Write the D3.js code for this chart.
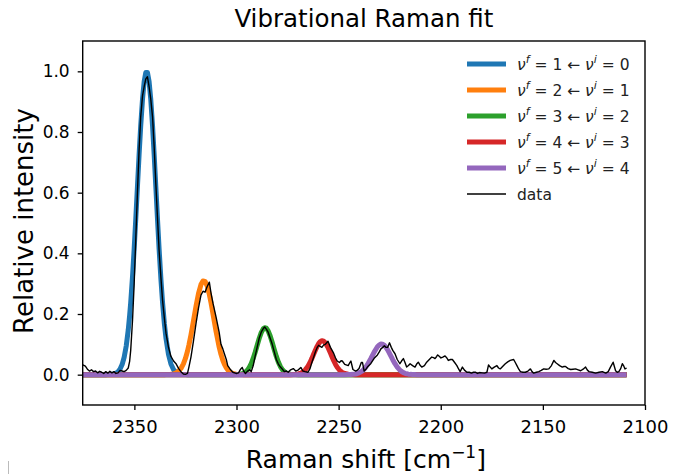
<!DOCTYPE html>
<html>
<head>
<meta charset="utf-8">
<script src="https://cdn.jsdelivr.net/npm/d3@7"></script>
<style>
  html, body { margin: 0; padding: 0; background: #fff; }
  svg { display: block; font-family: "DejaVu Sans", sans-serif; }
</style>
</head>
<body>
<svg id="chart" width="677" height="474"></svg>
<script>
// Measured spectrum: Raman shift [cm^-1] and normalised intensity
const dataShift = [
  2375.5, 2374.0, 2373.0, 2372.0, 2371.0, 2370.0, 2369.0, 2368.0, 2367.0, 2366.0,
  2365.0, 2364.0, 2363.0, 2362.0, 2361.0, 2360.0, 2359.0, 2358.0, 2357.0, 2356.0,
  2355.0, 2354.0, 2353.0, 2352.3, 2351.8, 2350.9, 2350.1, 2349.3, 2348.5, 2347.7,
  2346.9, 2346.0, 2345.2, 2344.4, 2343.6, 2342.8, 2342.0, 2341.1, 2340.3, 2339.5,
  2338.7, 2337.9, 2337.0, 2336.2, 2335.3, 2334.5, 2333.3, 2332.1, 2330.8, 2329.5,
  2328.3, 2327.2, 2326.0, 2325.0, 2324.0, 2323.3, 2322.3, 2321.1, 2319.8, 2318.6,
  2317.4, 2316.4, 2315.4, 2314.4, 2313.3, 2312.5, 2311.5, 2310.0, 2308.5, 2307.6,
  2306.7, 2305.9, 2305.0, 2304.3, 2303.1, 2301.8, 2300.2, 2299.0, 2298.0, 2297.2,
  2296.5, 2295.6, 2294.5, 2293.6, 2292.8, 2291.8, 2290.9, 2289.9, 2288.9, 2287.9,
  2286.9, 2286.2, 2285.4, 2284.5, 2283.5, 2282.5, 2281.5, 2280.5, 2279.5, 2278.5,
  2277.5, 2276.6, 2275.6, 2274.7, 2273.5, 2272.2, 2271.0, 2269.7, 2268.5, 2267.5,
  2266.4, 2265.0, 2264.0, 2263.1, 2262.2, 2261.4, 2260.6, 2259.8, 2259.0, 2258.2,
  2257.3, 2256.5, 2255.2, 2254.0, 2253.2, 2252.4, 2251.5, 2250.7, 2249.6, 2248.8,
  2248.2, 2247.0, 2245.3, 2244.5, 2244.0, 2243.0, 2241.7, 2240.8, 2240.0, 2238.9,
  2238.3, 2237.5, 2236.6, 2235.9, 2234.2, 2232.6, 2231.0, 2230.1, 2229.3, 2228.4,
  2227.6, 2226.8, 2226.0, 2225.1, 2224.2, 2223.5, 2222.4, 2221.3, 2220.0, 2219.2,
  2218.3, 2217.5, 2216.7, 2215.8, 2215.0, 2213.8, 2212.6, 2211.8, 2211.0, 2210.0,
  2209.3, 2208.0, 2206.9, 2205.6, 2204.4, 2203.5, 2202.8, 2202.0, 2201.5, 2200.6,
  2199.9, 2199.0, 2197.9, 2197.0, 2196.3, 2195.2, 2194.3, 2193.2, 2192.1, 2191.2,
  2190.5, 2189.4, 2188.4, 2187.2, 2186.0, 2185.0, 2184.0, 2183.1, 2182.0, 2181.0,
  2179.8, 2178.6, 2177.4, 2176.6, 2175.8, 2175.0, 2173.8, 2172.5, 2171.7, 2170.9,
  2169.6, 2168.4, 2167.2, 2166.0, 2164.3, 2163.5, 2162.7, 2161.8, 2161.0, 2159.8,
  2158.6, 2157.3, 2156.1, 2155.3, 2154.5, 2153.2, 2152.0, 2150.8, 2149.6, 2148.4,
  2147.1, 2145.8, 2144.6, 2143.8, 2143.0, 2141.8, 2140.5, 2139.7, 2138.9, 2137.6,
  2136.4, 2135.2, 2134.0, 2132.7, 2131.5, 2130.3, 2129.1, 2128.2, 2127.4, 2125.8,
  2124.2, 2122.5, 2120.9, 2119.2, 2118.0, 2116.9, 2115.6, 2114.4, 2113.6, 2112.8,
  2111.9, 2111.1, 2110.5, 2109.8, 2109.0
];
const dataIntensity = [
  0.033, 0.028, 0.018, 0.012, 0.016, 0.010, 0.012, 0.006, 0.011, 0.008,
  0.004, 0.010, 0.005, 0.011, 0.006, 0.010, 0.004, 0.006, 0.014, 0.012,
  0.010, 0.014, 0.022, 0.045, 0.080, 0.180, 0.300, 0.450, 0.600, 0.740,
  0.850, 0.920, 0.950, 0.975, 0.982, 0.950, 0.910, 0.850, 0.750, 0.630,
  0.520, 0.410, 0.320, 0.245, 0.185, 0.136, 0.090, 0.060, 0.045, 0.035,
  0.020, 0.010, 0.002, 0.001, 0.004, 0.025, 0.058, 0.110, 0.170, 0.220,
  0.262, 0.275, 0.272, 0.290, 0.305, 0.270, 0.235, 0.190, 0.140, 0.100,
  0.085, 0.068, 0.050, 0.030, 0.018, 0.008, 0.004, 0.006, 0.018, 0.024,
  0.012, 0.004, 0.012, 0.016, 0.010, 0.030, 0.060, 0.090, 0.120, 0.140,
  0.152, 0.157, 0.150, 0.140, 0.120, 0.100, 0.075, 0.050, 0.035, 0.025,
  0.018, 0.010, 0.012, 0.008, 0.016, 0.020, 0.012, 0.016, 0.024, 0.012,
  0.010, 0.008, 0.020, 0.040, 0.058, 0.075, 0.088, 0.097, 0.093, 0.090,
  0.098, 0.100, 0.110, 0.090, 0.080, 0.070, 0.055, 0.045, 0.040, 0.046,
  0.045, 0.034, 0.030, 0.040, 0.045, 0.017, 0.012, 0.015, 0.020, 0.040,
  0.040, 0.012, 0.018, 0.025, 0.037, 0.054, 0.065, 0.075, 0.085, 0.090,
  0.095, 0.090, 0.090, 0.105, 0.090, 0.080, 0.069, 0.050, 0.036, 0.045,
  0.053, 0.040, 0.025, 0.030, 0.036, 0.030, 0.025, 0.035, 0.041, 0.030,
  0.025, 0.030, 0.041, 0.050, 0.058, 0.056, 0.053, 0.060, 0.065, 0.060,
  0.055, 0.058, 0.062, 0.055, 0.047, 0.050, 0.050, 0.040, 0.030, 0.018,
  0.010, 0.025, 0.015, 0.008, 0.008, 0.005, 0.008, 0.008, 0.004, 0.007,
  0.006, 0.005, 0.008, 0.032, 0.025, 0.019, 0.025, 0.030, 0.022, 0.019,
  0.028, 0.036, 0.042, 0.047, 0.050, 0.040, 0.030, 0.018, 0.010, 0.008,
  0.008, 0.012, 0.019, 0.010, 0.005, 0.008, 0.010, 0.014, 0.019, 0.018,
  0.019, 0.030, 0.047, 0.040, 0.036, 0.030, 0.025, 0.027, 0.027, 0.020,
  0.017, 0.018, 0.019, 0.016, 0.013, 0.018, 0.025, 0.015, 0.010, 0.008,
  0.005, 0.008, 0.010, 0.005, 0.010, 0.025, 0.041, 0.013, 0.008, 0.010,
  0.020, 0.036, 0.030, 0.019, 0.022
];

// Fitted Gaussian bands, one per vibrational transition
const bandUpper = [1, 2, 3, 4, 5];
const bandLower = [0, 1, 2, 3, 4];
const bandCenter = [2344.0, 2316.0, 2286.0, 2258.0, 2229.0];
const bandAmplitude = [1.0, 0.31, 0.155, 0.112, 0.101];
const bandSigma = [4.6, 4.8, 4.0, 4.2, 4.6];
const bandColor = ["#1f77b4", "#ff7f0e", "#2ca02c", "#d62728", "#9467bd"];

const xTicks = [2350, 2300, 2250, 2200, 2150, 2100];
const yTicks = [0.0, 0.2, 0.4, 0.6, 0.8, 1.0];

const svg = d3.select("#chart");
const W = 677, H = 474;
const margin = { left: 82.7, right: W - 645, top: 41, bottom: H - 405 };
const plotW = W - margin.left - margin.right;
const plotH = H - margin.top - margin.bottom;

const x = d3.scaleLinear().domain([2375.3, 2100]).range([0, plotW]);
const y = d3.scaleLinear().domain([-0.1, 1.1]).range([plotH, 0]);

svg.append("defs").append("clipPath").attr("id", "plot-clip")
  .append("rect").attr("width", plotW).attr("height", plotH);

const g = svg.append("g").attr("transform", `translate(${margin.left},${margin.top})`);
const plot = g.append("g").attr("clip-path", "url(#plot-clip)");

const line = d3.line().x(d => x(d[0])).y(d => y(d[1]));

// Model bands evaluated on the measured shifts
bandCenter.forEach((c, i) => {
  const pts = dataShift.map(s => [s, bandAmplitude[i] * Math.exp(-0.5 * ((s - c) / bandSigma[i]) ** 2)]);
  plot.append("path")
    .attr("d", line(pts))
    .attr("fill", "none")
    .attr("stroke", bandColor[i])
    .attr("stroke-width", 5)
    .attr("stroke-linejoin", "round");
});

// Measured spectrum on top
plot.append("path")
  .attr("d", line(dataShift.map((s, i) => [s, dataIntensity[i]])))
  .attr("fill", "none")
  .attr("stroke", "#000")
  .attr("stroke-width", 1.4)
  .attr("stroke-linejoin", "round");

// Axes
const xAxis = d3.axisBottom(x).tickValues(xTicks).tickFormat(d3.format("d")).tickSize(5).tickPadding(10);
const yAxis = d3.axisLeft(y).tickValues(yTicks).tickFormat(d3.format(".1f")).tickSize(5).tickPadding(8);

const gx = g.append("g").attr("transform", `translate(0,${plotH})`).call(xAxis);
const gy = g.append("g").call(yAxis);
gx.selectAll(".tick text").style("font-size", "18px");
gy.selectAll(".tick text").style("font-size", "17px");
[gx, gy].forEach(a => {
  a.select(".domain").remove();
  a.selectAll(".tick line").attr("stroke", "#000").attr("stroke-width", 1.3);
  a.selectAll(".tick text").attr("fill", "#000")
    .style("font-family", "'DejaVu Sans', sans-serif");
});

// Frame
g.append("rect").attr("width", plotW).attr("height", plotH)
  .attr("fill", "none").attr("stroke", "#000").attr("stroke-width", 1.4);

// Title and axis labels
svg.append("text").attr("x", margin.left + plotW / 2).attr("y", 27)
  .attr("text-anchor", "middle").style("font-size", "24.5px").attr("fill", "#000")
  .text("Vibrational Raman fit");

const xl = svg.append("text").attr("x", margin.left + plotW / 2 + 2).attr("y", 468)
  .attr("text-anchor", "middle").style("font-size", "25px").attr("fill", "#000");
xl.append("tspan").text("Raman shift [cm");
xl.append("tspan").attr("dy", -10).style("font-size", "17px").text("−1");
xl.append("tspan").attr("dy", 10).text("]");

svg.append("text")
  .attr("transform", `translate(33,${margin.top + plotH / 2 - 2}) rotate(-90)`)
  .attr("text-anchor", "middle").style("font-size", "26px").attr("fill", "#000")
  .text("Relative intensity");

// Legend
const legend = svg.append("g").attr("transform", "translate(467,64)");
const rowH = 26;
bandUpper.forEach((u, i) => {
  const row = legend.append("g").attr("transform", `translate(0,${i * rowH})`);
  row.append("line").attr("x1", 0).attr("x2", 39).attr("y1", 0).attr("y2", 0)
    .attr("stroke", bandColor[i]).attr("stroke-width", 5);
  const t = row.append("text").attr("x", 50).attr("y", 6)
    .style("font-size", "15.5px").attr("fill", "#222");
  t.append("tspan").style("font-style", "italic").text("ν");
  t.append("tspan").attr("dy", -7).style("font-size", "11px").style("font-style", "italic").text("f");
  t.append("tspan").attr("dy", 7).text(` = ${u} ← `);
  t.append("tspan").style("font-style", "italic").text("ν");
  t.append("tspan").attr("dy", -7).style("font-size", "11px").style("font-style", "italic").text("i");
  t.append("tspan").attr("dy", 7).text(` = ${bandLower[i]}`);
});
const dataRow = legend.append("g").attr("transform", `translate(0,${bandUpper.length * rowH})`);
dataRow.append("line").attr("x1", 0).attr("x2", 39).attr("y1", 0).attr("y2", 0)
  .attr("stroke", "#000").attr("stroke-width", 1.6);
dataRow.append("text").attr("x", 50).attr("y", 6)
  .style("font-size", "15.5px").attr("fill", "#222").text("data");

// Thin grey stroke at the lower-left page edge
svg.append("line").attr("x1", 8.5).attr("x2", 8.5).attr("y1", 461).attr("y2", 474)
  .attr("stroke", "#bbb").attr("stroke-width", 1);
</script>
</body>
</html>
